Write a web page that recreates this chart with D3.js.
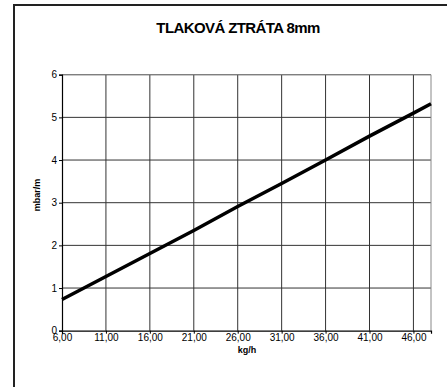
<!DOCTYPE html>
<html>
<head>
<meta charset="utf-8">
<script src="https://cdn.jsdelivr.net/npm/d3@7"></script>
<style>
  body { margin: 0; background: #fff; }
  text { font-family: "Liberation Sans", Arial, sans-serif; }
</style>
</head>
<body>
<script>
// tlaková ztráta 8mm - mbar/m vs kg/h
var flow = [6, 11, 16, 21, 26, 31, 36, 41, 46, 48];
var loss = [0.73, 1.27, 1.81, 2.35, 2.91, 3.45, 4.00, 4.56, 5.10, 5.32];
var xTicks = [6, 11, 16, 21, 26, 31, 36, 41, 46];
var yTicks = [0, 1, 2, 3, 4, 5, 6];

var w = 447, h = 387;
var plotL = 62, plotR = 431, plotT = 74.7, plotB = 330.7;

var svg = d3.select("body").append("svg")
    .attr("width", w)
    .attr("height", h);

svg.append("rect").attr("width", w).attr("height", h).attr("fill", "#fff");

// outer frame (runs past the right / bottom edge)
svg.append("rect")
    .attr("x", 14).attr("y", 5)
    .attr("width", 440).attr("height", 400)
    .attr("fill", "none")
    .attr("stroke", "#222")
    .attr("stroke-width", 2);

var x = d3.scaleLinear().domain([6, 48]).range([plotL, plotR]);
var y = d3.scaleLinear().domain([0, 6]).range([plotB, plotT]);

// grid
svg.append("g").selectAll("line")
    .data(xTicks.slice(1))
    .enter().append("line")
    .attr("x1", function(d) { return x(d); })
    .attr("x2", function(d) { return x(d); })
    .attr("y1", plotT).attr("y2", plotB)
    .attr("stroke", "#333").attr("stroke-width", 1);

svg.append("g").selectAll("line")
    .data(yTicks.slice(1))
    .enter().append("line")
    .attr("x1", plotL).attr("x2", plotR)
    .attr("y1", function(d) { return y(d); })
    .attr("y2", function(d) { return y(d); })
    .attr("stroke", "#333").attr("stroke-width", 1);

// plot border top/right
svg.append("path")
    .attr("d", "M" + plotL + "," + plotT + "H" + plotR + "V" + plotB)
    .attr("fill", "none")
    .attr("stroke", "#888")
    .attr("stroke-width", 1);

// axes
var fmt = function(d) { return d3.format(".2f")(d).replace(".", ","); };

var xAxis = svg.append("g")
    .attr("transform", "translate(0," + plotB + ")")
    .call(d3.axisBottom(x).tickValues(xTicks).tickFormat(fmt).tickSize(3).tickPadding(0));

var yAxis = svg.append("g")
    .attr("transform", "translate(" + plotL + ",0)")
    .call(d3.axisLeft(y).tickValues(yTicks).tickFormat(d3.format("d")).tickSize(3).tickPadding(2));

[xAxis, yAxis].forEach(function(a) {
    a.select(".domain").attr("stroke", "#000").attr("stroke-width", 1.2);
    a.selectAll(".tick line").attr("stroke", "#000");
    a.selectAll("text")
        .attr("fill", "#000")
        .style("font-family", "'Liberation Sans', Arial, sans-serif")
        .style("font-size", "10px");
});

// line
var line = d3.line()
    .x(function(d, i) { return x(flow[i]); })
    .y(function(d) { return y(d); });

svg.append("path")
    .datum(loss)
    .attr("d", line)
    .attr("fill", "none")
    .attr("stroke", "#000")
    .attr("stroke-width", 3.5)
    .attr("stroke-linejoin", "round");

// texts
svg.append("text")
    .attr("x", 238).attr("y", 33)
    .attr("text-anchor", "middle")
    .style("font-size", "15px").style("font-weight", "bold")
    .style("letter-spacing", "-0.6px")
    .text("TLAKOVÁ ZTRÁTA 8mm");

svg.append("text")
    .attr("x", 247).attr("y", 353)
    .attr("text-anchor", "middle")
    .style("font-size", "9px").style("font-weight", "bold")
    .text("kg/h");

svg.append("text")
    .attr("transform", "translate(40,195) rotate(-90)")
    .attr("text-anchor", "middle")
    .style("font-size", "9px").style("font-weight", "bold")
    .text("mbar/m");
</script>
</body>
</html>
